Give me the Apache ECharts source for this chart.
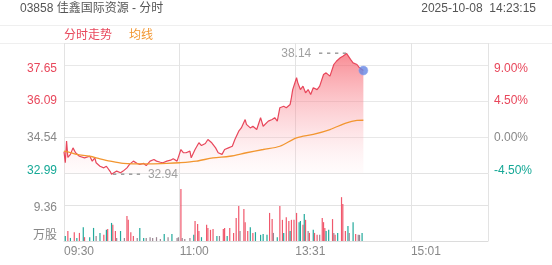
<!DOCTYPE html>
<html><head><meta charset="utf-8">
<script src="https://cdn.jsdelivr.net/npm/echarts@6/dist/echarts.min.js"></script>
<style>html,body{margin:0;padding:0;background:#fff}#c{width:552px;height:265px}</style>
</head><body><div id="c"></div>
<script>
const titleText = '03858 佳鑫国际资源 - 分时';
const timeText = '2025-10-08  14:23:15';
const legendNames = ['分时走势', '均线'];
const timeLabels = ['09:30', '11:00', '13:31', '15:01', ''];
const priceLabels = ['32.99', '34.54', '36.09', '37.65', ''];
const pctLabels = ['-4.50%', '0.00%', '4.50%', '9.00%', ''];
const volLabels = ['万股', '9.36', ''];
const prevClose = 34.54;

// minutes since 09:30 (lunch break removed) and prices
const priceMin = [0,1,2,3,5,7,9,12,16,20,22,24,25,28,31,33,36,37,41,44,46,49,51,54,57,59,62,64,67,70,72,75,77,80,83,85,88,89,91,93,95,98,99,102,105,107,110,112,115,118,120,123,125,128,131,133,136,138,141,142,145,147,150,153,155,156,159,162,164,166,168,171,173,176,177,178,181,182,184,186,188,190,192,194,197,199,202,204,207,210,212,215,217,220,223,225,228,230,233];
const prices = [33.92,33.44,34.37,33.67,33.80,34.08,33.87,33.72,33.65,33.72,33.51,33.65,33.44,33.29,33.22,33.29,33.06,32.94,33.08,33.01,33.08,33.22,33.37,33.51,33.41,33.37,33.41,33.32,33.51,33.58,33.51,33.46,33.44,33.51,33.55,33.61,33.51,33.49,34.01,33.87,33.87,33.94,33.65,34.01,34.30,34.18,34.27,34.44,34.30,34.08,33.87,33.80,34.01,34.08,34.15,34.44,34.80,34.94,35.30,35.09,34.94,35.01,34.87,35.38,35.01,34.94,35.23,35.30,35.38,35.23,35.81,35.87,35.81,35.95,36.24,36.59,37.10,36.88,36.59,36.74,36.45,36.59,36.38,36.67,36.59,36.74,37.24,37.31,37.17,37.67,37.81,37.96,38.03,38.14,37.89,37.74,37.67,37.53,37.41];

const avgMin = [0,5,10,20,28,36,46,54,67,80,90,103,116,129,142,155,168,181,194,207,220,228,233];
const avgPrices = [33.94,33.88,33.80,33.72,33.61,33.51,33.41,33.39,33.39,33.41,33.44,33.51,33.65,33.72,33.87,34.01,34.15,34.51,34.66,34.87,35.16,35.26,35.27];

// volume (万股); dir: 1 up, -1 down, 0 flat
const volMin = [1,3,5,8,10,12,15,16,20,23,25,28,31,33,34,37,38,40,41,44,47,49,50,52,54,57,59,62,64,67,69,72,75,78,81,84,88,89,91,92,94,98,101,102,104,105,107,111,112,114,116,119,121,124,125,127,129,132,134,136,137,140,141,143,145,147,149,153,155,158,160,162,163,166,168,170,171,173,175,176,177,179,181,183,184,186,187,188,190,191,194,195,197,199,201,202,203,204,206,209,210,211,213,216,217,219,221,222,225,227,229,230,232];
const vols = [1.3,2.6,0.8,2.3,0.8,2.1,3.6,1.0,1.0,3.4,1.3,2.1,1.6,2.9,3.1,4.7,4.2,2.6,0.8,2.6,0.8,6.5,5.5,2.3,1.3,0.8,3.4,0.8,0.8,1.0,0.8,1.0,0.5,1.8,1.0,1.8,0.8,1.0,13.5,0.8,0.5,0.8,1.6,5.2,4.4,2.6,1.0,4.2,3.4,2.9,3.1,1.3,1.3,3.1,3.4,1.3,3.4,2.1,6.0,9.1,2.6,8.3,4.9,2.6,3.6,2.1,2.3,1.6,1.8,1.6,7.3,5.7,2.1,1.0,9.1,5.5,2.1,6.2,5.2,2.6,5.5,5.5,7.3,4.9,5.2,4.2,7.0,5.5,2.6,2.1,2.9,2.1,1.6,1.6,6.0,4.9,3.4,2.6,2.9,5.7,2.1,1.6,2.1,11.4,9.6,2.6,3.9,2.1,4.9,1.8,1.6,1.6,2.1];
const volDir = [-1,1,-1,1,-1,1,-1,1,-1,-1,0,-1,1,-1,1,-1,1,1,0,-1,0,1,1,1,1,0,-1,-1,0,0,0,0,0,-1,0,-1,0,0,1,0,0,0,-1,1,1,1,-1,1,1,1,1,-1,0,1,1,-1,1,1,1,1,0,1,1,1,-1,1,-1,-1,-1,-1,1,1,0,-1,1,1,-1,1,1,-1,1,1,1,-1,-1,1,-1,1,0,1,-1,1,1,0,1,1,1,-1,-1,1,0,1,-1,1,1,1,-1,0,-1,1,0,0,-1];

const FONT = "'Liberation Sans', 'Noto Sans CJK SC', sans-serif";
const RED = '#e8475b', TEAL = '#15a896', GRAY = '#888', ORANGE = '#f29630';
const dirColor = {'1': '#f0586c', '-1': '#22a99b', '0': '#9b8592'};

const priceData = priceMin.map((m, i) => [m, prices[i]]);
const avgData = avgMin.map((m, i) => [m, avgPrices[i]]);
const volData = volMin.map((m, i) => ({value: [m, vols[i]], itemStyle: {color: dirColor[String(volDir[i])]}}));
const last = priceData[priceData.length - 1];
const maxIdx = prices.indexOf(Math.max(...prices));
const minIdx = prices.indexOf(Math.min(...prices));

const step = prevClose * 0.045;
const pMin = prevClose - step;
const gridTop = 43, gridMainH = 130.3, pxPerStep = 36.1;
const pMax = pMin + step * gridMainH / pxPerStep;
const pctMax = -4.5 + 4.5 * gridMainH / pxPerStep;

const labelRich = {
  up0: {color: RED, fontFamily: FONT, fontSize: 12},
  up1: {color: RED, fontFamily: FONT, fontSize: 12, padding: [7, 0, 0, 0]},
  mid: {color: GRAY, fontFamily: FONT, fontSize: 12},
  dn: {color: TEAL, fontFamily: FONT, fontSize: 12, padding: [0, 0, 6, 0]}
};
const styleByIdx = ['dn', 'mid', 'up0', 'up1', 'mid'];
const extRich = {
  t: {color: GRAY, fontSize: 12, fontFamily: FONT},
  d: {color: '#8a8a8a', fontSize: 13, fontFamily: FONT, fontWeight: 'bold'}
};

const chart = echarts.init(document.getElementById('c'), null, {renderer: 'canvas'});
chart.setOption({
  animation: false,
  backgroundColor: '#fff',
  textStyle: {fontFamily: FONT},
  legend: {
    data: [
      {name: legendNames[0], textStyle: {color: RED}},
      {name: legendNames[1], textStyle: {color: ORANGE}}
    ],
    icon: 'none', itemWidth: 0, itemGap: 12, left: 54, top: 24,
    textStyle: {fontSize: 12, fontFamily: FONT}, selectedMode: false
  },
  graphic: [
    {type: 'text', left: 20, top: 3, style: {text: titleText, fill: '#555', font: '12px ' + FONT}},
    {type: 'text', right: 16, top: 3, style: {text: timeText, fill: '#555', font: '12px ' + FONT}},
    {type: 'line', shape: {x1: 0, y1: 25.5, x2: 552, y2: 25.5}, style: {stroke: '#efefef', lineWidth: 1}},
    {type: 'line', shape: {x1: 0, y1: 43.5, x2: 552, y2: 43.5}, style: {stroke: '#efefef', lineWidth: 1}}
  ],
  grid: [
    {left: 64, right: 64, top: gridTop, height: gridMainH},
    {left: 64, right: 64, top: gridTop + gridMainH, height: 67.7}
  ],
  xAxis: [
    {type: 'value', gridIndex: 0, min: 0, max: 330, interval: 90,
     axisLine: {show: false}, axisTick: {show: false}, axisLabel: {show: false},
     splitLine: {show: true, lineStyle: {color: '#e3e3e3'}}},
    {type: 'value', gridIndex: 1, min: 0, max: 330, interval: 90,
     axisLine: {show: true, lineStyle: {color: '#dcdcdc'}}, axisTick: {show: false},
     axisLabel: {show: true, align: 'left', margin: 5, color: GRAY, fontSize: 12, fontFamily: FONT,
       formatter: (v, i) => timeLabels[i] || ''},
     splitLine: {show: true, lineStyle: {color: '#e3e3e3'}}}
  ],
  yAxis: [
    {type: 'value', gridIndex: 0, min: pMin, max: pMax, interval: step, position: 'left',
     axisLine: {show: false}, axisTick: {show: false},
     axisLabel: {margin: 7, formatter: (v, i) => priceLabels[i] ? '{' + styleByIdx[i] + '|' + priceLabels[i] + '}' : '', rich: labelRich},
     splitLine: {show: true, lineStyle: {color: '#e8e8e8'}}},
    {type: 'value', gridIndex: 0, min: -4.5, max: pctMax, interval: 4.5, position: 'right',
     axisLine: {show: false}, axisTick: {show: false},
     axisLabel: {margin: 6, formatter: (v, i) => pctLabels[i] ? '{' + styleByIdx[i] + '|' + pctLabels[i] + '}' : '', rich: labelRich},
     splitLine: {show: false}},
    {type: 'value', gridIndex: 1, min: 0, max: 9.36 * 67.7 / 36, interval: 9.36, position: 'left',
     axisLine: {show: false}, axisTick: {show: false},
     axisLabel: {margin: 7, formatter: (v, i) => volLabels[i] ? '{v' + i + '|' + volLabels[i] + '}' : '',
       rich: {
         v0: {color: GRAY, fontSize: 12, fontFamily: FONT, padding: [0, 0, 10, 0]},
         v1: {color: GRAY, fontSize: 12, fontFamily: FONT, padding: [5, 0, 0, 0]}
       }},
     splitLine: {show: true, lineStyle: {color: '#e3e3e3'}}}
  ],
  series: [
    {name: legendNames[0], type: 'line', xAxisIndex: 0, yAxisIndex: 0, data: priceData,
     showSymbol: false, clip: false, lineStyle: {color: RED, width: 1.2}, itemStyle: {color: RED},
     areaStyle: {color: new echarts.graphic.LinearGradient(0, 0, 0, 1, [
       {offset: 0, color: 'rgba(245,78,90,0.92)'},
       {offset: 0.6, color: 'rgba(250,150,160,0.45)'},
       {offset: 1, color: 'rgba(255,225,228,0.15)'}])}},
    {name: legendNames[1], type: 'line', xAxisIndex: 0, yAxisIndex: 0, data: avgData,
     showSymbol: false, smooth: 0.3, lineStyle: {color: ORANGE, width: 1.3}, itemStyle: {color: ORANGE}},
    {type: 'scatter', xAxisIndex: 0, yAxisIndex: 0, symbolSize: 0, silent: true, z: 6, clip: false,
     data: [
       {value: priceData[maxIdx], label: {show: true, position: 'left', distance: 0,
         formatter: p => '{t|' + p.value[1].toFixed(2) + '}{d|  - - - -}'}},
       {value: priceData[minIdx], label: {show: true, position: 'right', distance: 1,
         formatter: p => '{d|- - - -  }{t|' + p.value[1].toFixed(2) + '}'}}
     ],
     label: {rich: extRich}},
    {type: 'scatter', xAxisIndex: 0, yAxisIndex: 0, data: [last], symbolSize: 9, clip: false,
     itemStyle: {color: '#6486e3', borderColor: 'rgba(140,165,240,0.6)', borderWidth: 1}, z: 5},
    {type: 'bar', xAxisIndex: 1, yAxisIndex: 2, data: volData, barWidth: 1.2, barMinHeight: 1}
  ]
});
</script>
</body></html>
